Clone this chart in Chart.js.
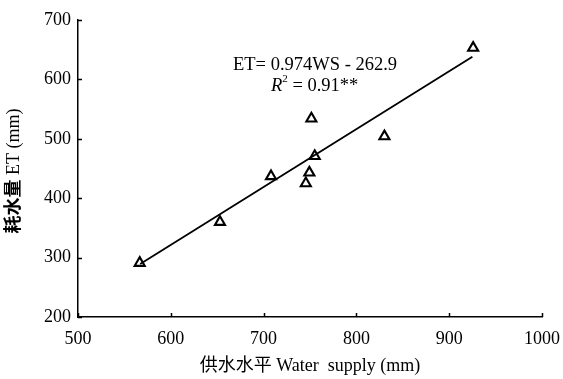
<!DOCTYPE html>
<html><head><meta charset="utf-8">
<script src="https://cdn.jsdelivr.net/npm/chart.js@4/dist/chart.umd.min.js"></script>
<style>html,body{margin:0;padding:0;background:#fff;}canvas{display:block;}</style>
</head><body>
<canvas id="c" width="563" height="379"></canvas>
<script>
const waterSupply = [566.5, 653, 708, 745.5, 749.3, 751.5, 755.1, 830.2, 925.8];
const evapotranspiration = [291, 360, 437, 425, 443, 534, 471, 504, 653];
const trendX = [567, 925];
const trendY = [289.4, 638.1];
const xTicks = [500, 600, 700, 800, 900, 1000];
const yTicks = [200, 300, 400, 500, 600, 700];
const eqLine1 = 'ET= 0.974WS - 262.9';
const eqLine2 = ' = 0.91**';
const yTitleCn = '耗水量';
const yTitleEn = ' ET (mm)';
const xTitle = '供水水平 Water  supply (mm)';

const FONT = '"Liberation Serif", "Noto Sans CJK SC", serif';

const annot = {
  id: 'annot',
  afterDraw(chart) {
    const ctx = chart.ctx;
    const xs = chart.scales.x, ys = chart.scales.y;
    const ca = chart.chartArea;
    ctx.save();
    ctx.strokeStyle = '#000';
    ctx.lineWidth = 1.5;
    ctx.beginPath();
    xTicks.forEach(v => {
      const px = Math.round(xs.getPixelForValue(v)) + 0.5;
      ctx.moveTo(px, ca.bottom);
      ctx.lineTo(px, ca.bottom - 4);
    });
    yTicks.forEach(v => {
      const py = Math.round(ys.getPixelForValue(v)) + 0.5;
      ctx.moveTo(ca.left, py);
      ctx.lineTo(ca.left + 4, py);
    });
    ctx.stroke();

    ctx.fillStyle = '#000';
    ctx.textBaseline = 'middle';
    ctx.font = '18.5px ' + FONT;
    ctx.textAlign = 'left';
    ctx.fillText(eqLine1, 233, 65);
    let x = 271, y = 86;
    ctx.font = 'italic 18.5px ' + FONT;
    ctx.fillText('R', x, y);
    x += ctx.measureText('R').width;
    ctx.font = '11px ' + FONT;
    ctx.fillText('2', x, y - 7);
    x += ctx.measureText('2').width;
    ctx.font = '18.5px ' + FONT;
    ctx.fillText(eqLine2, x, y);

    ctx.translate(14, 171);
    ctx.rotate(-Math.PI / 2);
    ctx.font = 'bold 18px ' + FONT;
    const w1 = ctx.measureText(yTitleCn).width;
    ctx.font = '18px ' + FONT;
    const w2 = ctx.measureText(yTitleEn).width;
    let sx = -(w1 + w2) / 2;
    ctx.font = 'bold 18px ' + FONT;
    ctx.fillText(yTitleCn, sx, 0);
    ctx.font = '18px ' + FONT;
    ctx.fillText(yTitleEn, sx + w1, 0);
    ctx.restore();
  }
};

new Chart(document.getElementById('c'), {
  type: 'scatter',
  data: {
    datasets: [
      {
        data: waterSupply.map((v, i) => ({x: v, y: evapotranspiration[i]})),
        pointStyle: 'triangle',
        pointRadius: 5.8,
        pointBorderWidth: 2.1,
        pointBackgroundColor: 'rgba(255,255,255,0)',
        pointBorderColor: '#000',
        showLine: false,
        order: 1
      },
      {
        type: 'line',
        data: trendX.map((v, i) => ({x: v, y: trendY[i]})),
        borderColor: '#000',
        borderWidth: 1.8,
        pointRadius: 0,
        fill: false,
        order: 2
      }
    ]
  },
  options: {
    responsive: false,
    animation: false,
    layout: {padding: {top: 20, right: 21, left: 0, bottom: 0}},
    plugins: {legend: {display: false}, tooltip: {enabled: false}},
    scales: {
      x: {
        type: 'linear', min: 500, max: 1000,
        afterBuildTicks: s => { s.ticks = xTicks.map(v => ({value: v})); },
        afterFit: s => { s.height = 62; s.paddingLeft = 0; s.paddingRight = 0; },
        grid: {display: false, drawTicks: false},
        border: {display: true, color: '#000', width: 1.5},
        ticks: {color: '#000', font: {family: FONT, size: 18}, padding: 11, maxRotation: 0, callback: v => String(v)},
        title: {display: true, text: xTitle, color: '#000', font: {family: FONT, size: 18}, padding: {top: 0, bottom: 2}}
      },
      y: {
        type: 'linear', min: 200, max: 700,
        afterBuildTicks: s => { s.ticks = yTicks.map(v => ({value: v})); },
        afterFit: s => { s.width = 78; s.paddingTop = 0; s.paddingBottom = 0; },
        grid: {display: false, drawTicks: false},
        border: {display: true, color: '#000', width: 1.5},
        ticks: {color: '#000', font: {family: FONT, size: 18}, padding: 7, callback: v => String(v)},
        title: {display: false}
      }
    }
  },
  plugins: [annot]
});
</script>
</body></html>
